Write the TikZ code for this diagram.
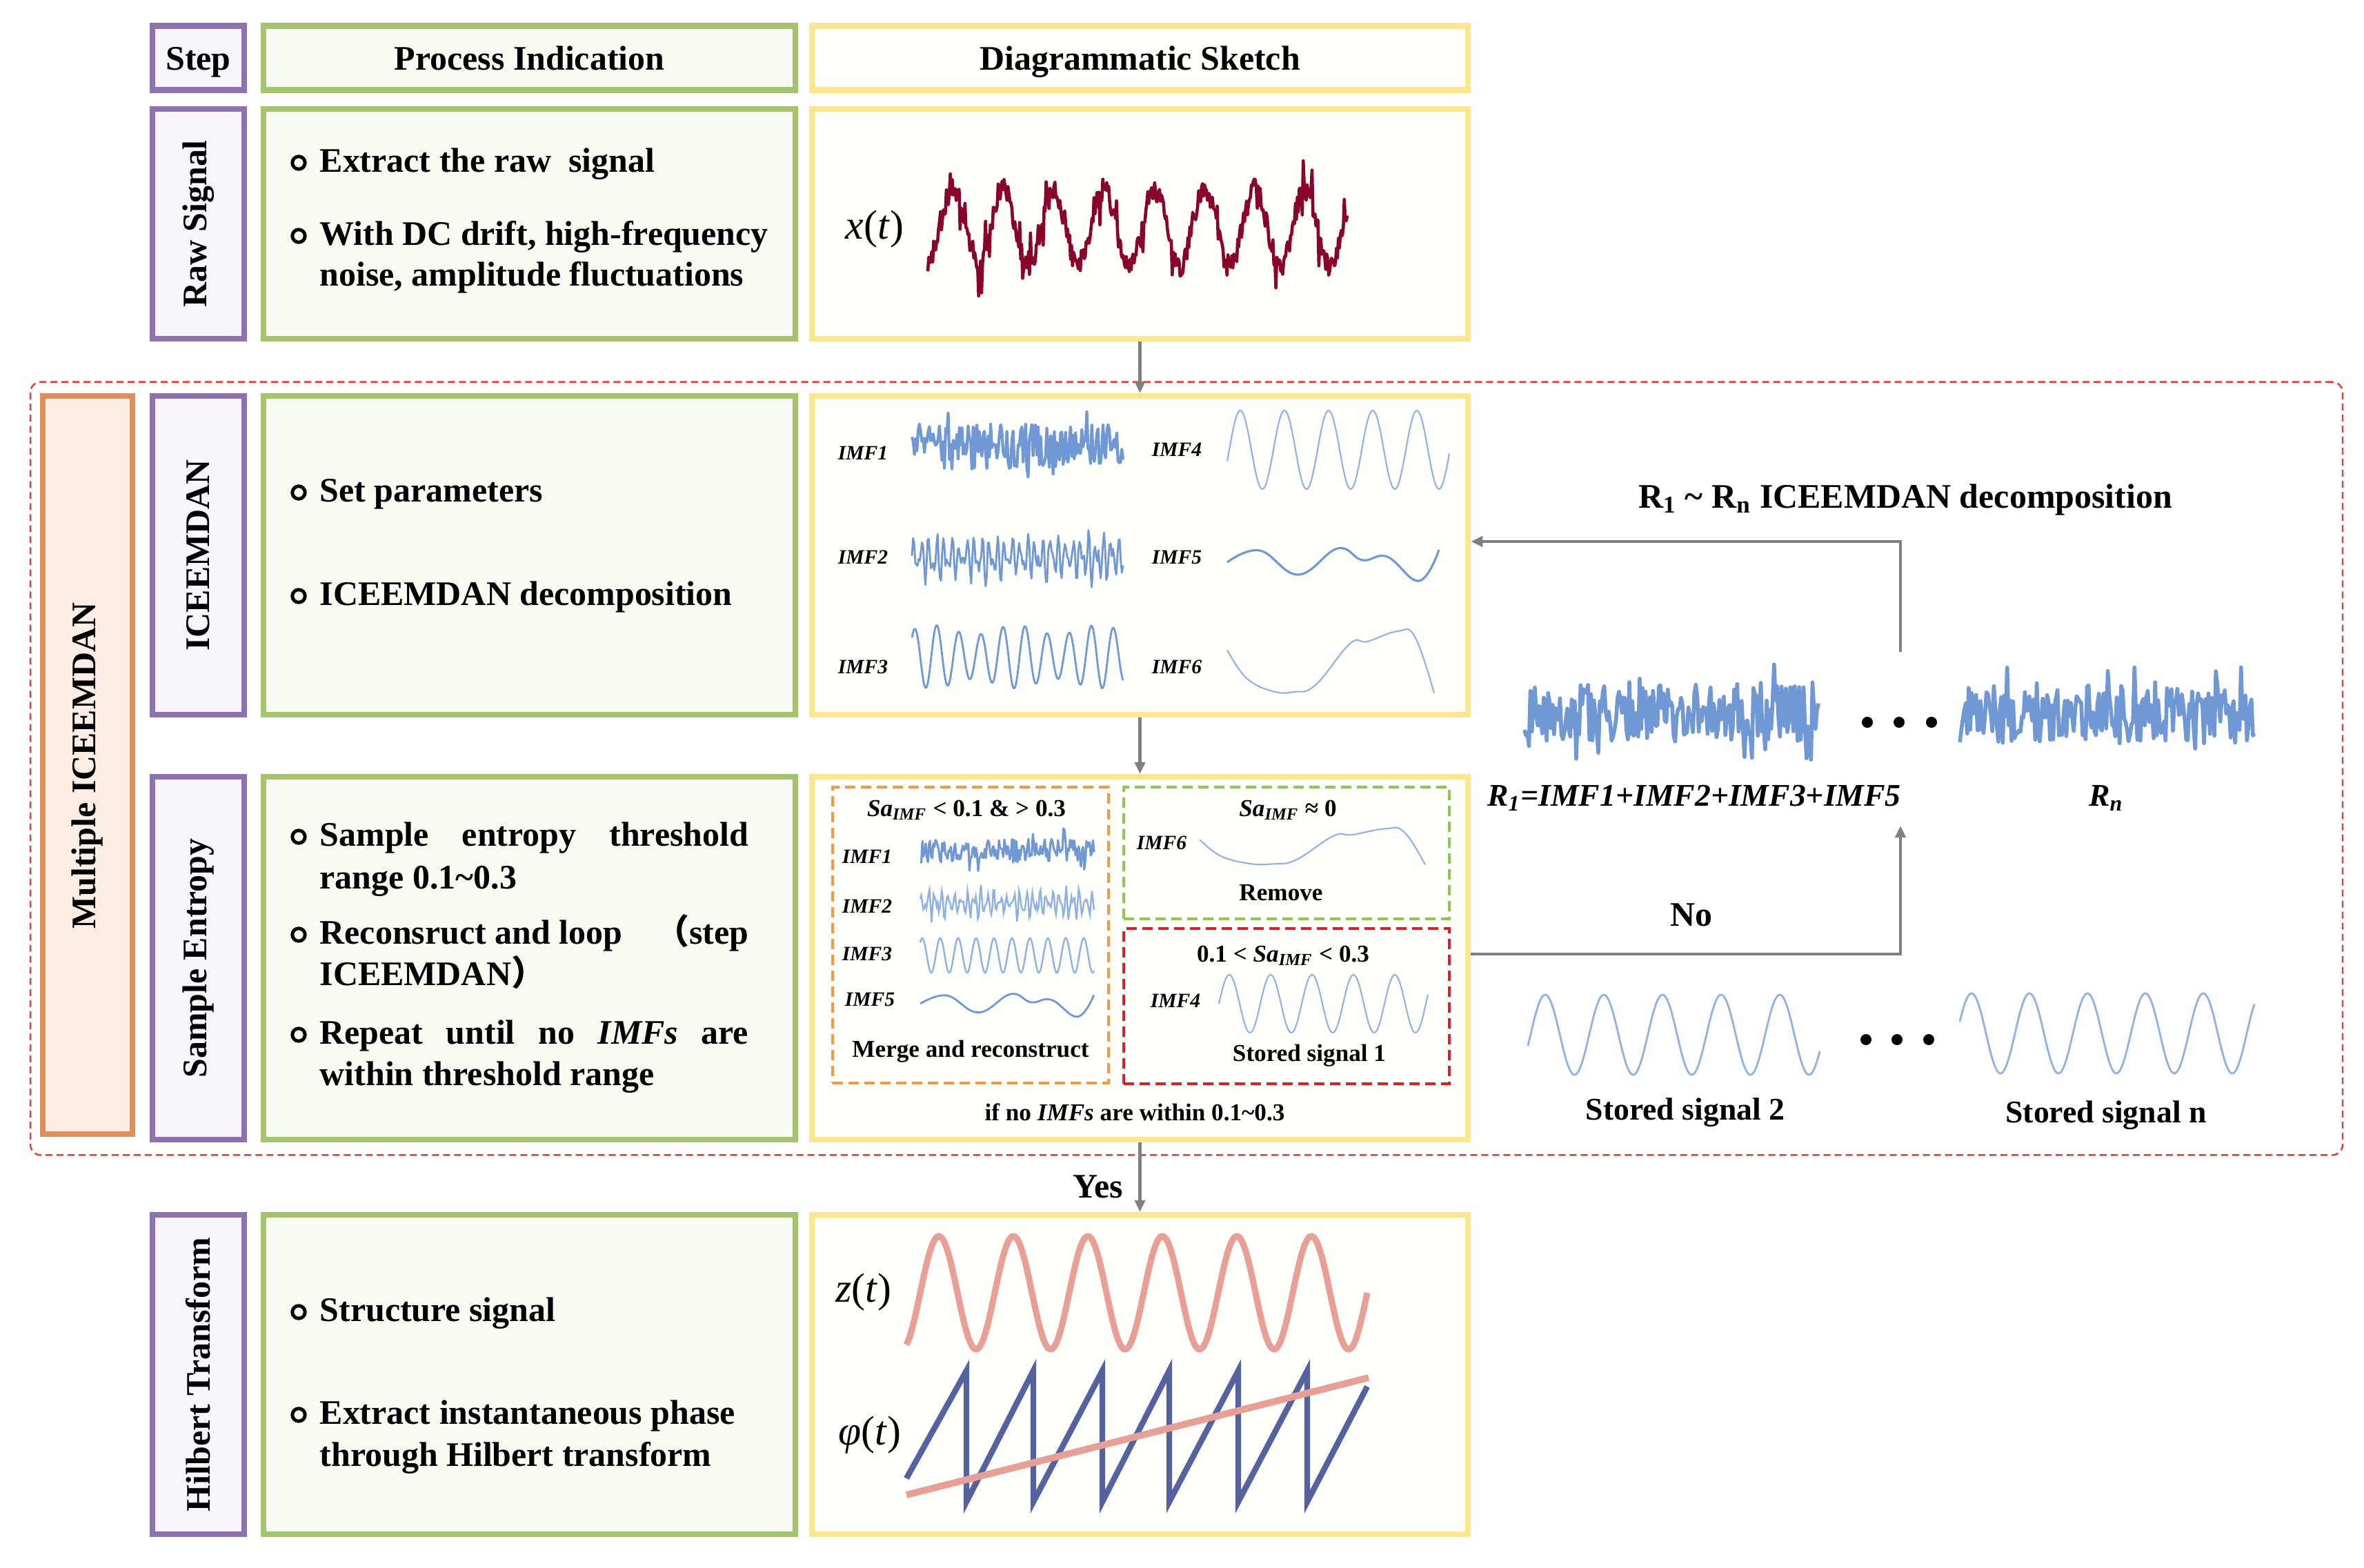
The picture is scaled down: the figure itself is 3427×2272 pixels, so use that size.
\documentclass[tikz,border=0pt]{standalone}
\usepackage{fontspec}
\setmainfont{Liberation Serif}
\newfontfamily\cjk{Noto Sans CJK SC}
\usetikzlibrary{arrows.meta}
\definecolor{stepc}{RGB}{142,113,176}
\definecolor{stepf}{RGB}{248,246,252}
\definecolor{procc}{RGB}{163,196,106}
\definecolor{procf}{RGB}{247,251,242}
\definecolor{skc}{RGB}{255,229,140}
\definecolor{skf}{RGB}{255,255,252}
\definecolor{orc}{RGB}{222,143,92}
\definecolor{orf}{RGB}{252,238,229}
\definecolor{redd}{RGB}{232,60,60}
\definecolor{argray}{RGB}{128,128,128}
\definecolor{maroon}{RGB}{138,4,42}
\definecolor{imfb}{RGB}{112,152,212}
\definecolor{imfl}{RGB}{145,178,225}
\definecolor{salmon}{RGB}{232,160,150}
\definecolor{phib}{RGB}{84,98,160}
\definecolor{dor}{RGB}{246,152,62}
\definecolor{dgr}{RGB}{138,204,72}
\definecolor{drd}{RGB}{222,30,36}
\newcommand{\fmain}{\fontsize{14.2}{17}\selectfont\bfseries}
\newcommand{\fimf}{\fontsize{8.4}{10}\selectfont\bfseries\itshape}
\newcommand{\fsmall}{\fontsize{10}{12}\selectfont\bfseries}
\newcommand{\fmid}{\fontsize{13}{15}\selectfont\bfseries}
\newcommand{\fsig}{\fontsize{17}{20}\selectfont}
\begin{document}
\begin{tikzpicture}[x=0.01cm,y=-0.01cm,font=\fmain,
  stepbox/.style={draw=stepc,fill=stepf,line width=2.3pt,inner sep=0pt,minimum width=1.33cm},
  procbox/.style={draw=procc,fill=procf,line width=2.3pt,inner sep=0pt,minimum width=7.71cm},
  skbox/.style={draw=skc,fill=skf,line width=2.3pt,inner sep=0pt,minimum width=9.51cm},
  ptext/.style={anchor=base west,inner sep=0pt},
  htext/.style={anchor=base,inner sep=0pt},
  bul/.style={line width=1.4pt},
  garrow/.style={draw=argray,line width=1.3pt,-{Triangle[length=0.17cm,width=0.15cm]}},
  imflab/.style={font=\fimf,inner sep=0pt},
  smalltxt/.style={font=\fsmall,inner sep=0pt},
  sigA/.style={imfb,line width=0.8pt,line join=round},
  sigB/.style={imfl,line width=0.6pt},
  sigC/.style={imfb,line width=0.9pt},
  ddash/.style={line width=1.1pt,dash pattern=on 0.15cm off 0.08cm,inner sep=0pt},
]
\useasboundingbox (0,0) rectangle (3427,2272);
\fill[white] (0,0) rectangle (3427,2272);

% outer dashed loop region
\node[draw=redd,line width=0.7pt,dash pattern=on 0.1cm off 0.06cm,rounded corners=0.15cm,
      minimum width=33.50cm,minimum height=11.20cm,inner sep=0pt] (loop) at (1720,1114) {};
\node[draw=orc,fill=orf,line width=2.3pt,minimum width=1.30cm,minimum height=10.70cm,inner sep=0pt] (multi) at (127,1109) {};
\node[rotate=90] (multit) at (126,1110) {Multiple ICEEMDAN};

% header
\node[stepbox,minimum height=0.93cm] (st0) at (287.5,84) {};
\node[procbox,minimum height=0.93cm] (pr0) at (767.5,84) {};
\node[skbox,minimum height=0.93cm] (sk0) at (1652.5,84) {};
\node[htext] (st0t) at (287.5,101) {Step};
\node[htext] (pr0t) at (767.5,101) {Process Indication};
\node[htext] (sk0t) at (1652.5,101) {Diagrammatic Sketch};

% rows
\node[stepbox,minimum height=3.33cm] (st1) at (287.5,324.5) {};
\node[procbox,minimum height=3.33cm] (pr1) at (767.5,324.5) {};
\node[skbox,minimum height=3.33cm] (sk1) at (1652.5,324.5) {};
\node[stepbox,minimum height=4.62cm] (st2) at (287.5,805) {};
\node[procbox,minimum height=4.62cm] (pr2) at (767.5,805) {};
\node[skbox,minimum height=4.62cm] (sk2) at (1652.5,805) {};
\node[stepbox,minimum height=5.26cm] (st3) at (287.5,1389) {};
\node[procbox,minimum height=5.26cm] (pr3) at (767.5,1389) {};
\node[skbox,minimum height=5.26cm] (sk3) at (1652.5,1389) {};
\node[stepbox,minimum height=4.63cm] (st4) at (287.5,1992.5) {};
\node[procbox,minimum height=4.63cm] (pr4) at (767.5,1992.5) {};
\node[skbox,minimum height=4.63cm] (sk4) at (1652.5,1992.5) {};

% step labels
\node[rotate=90] (st1t) at (st1) {Raw Signal};
\node[rotate=90] (st2t) at (st2) {ICEEMDAN};
\node[rotate=90] (st3t) at (st3) {Sample Entropy};
\node[rotate=90] (st4t) at (st4) {Hilbert Transform};

% process texts
\draw[bul] (433,236) circle (0.092cm);
\node[ptext] (p11) at (463,249) {Extract the raw\ \ signal};
\draw[bul] (433,342) circle (0.092cm);
\node[ptext] (p12) at (463,355) {With DC drift, high-frequency};
\node[ptext] (p13) at (463,414) {noise, amplitude fluctuations};

\draw[bul] (433,714) circle (0.092cm);
\node[ptext] (p21) at (463,727) {Set parameters};
\draw[bul] (433,864) circle (0.092cm);
\node[ptext] (p22) at (463,877) {ICEEMDAN decomposition};

\draw[bul] (433,1213) circle (0.092cm);
\node[ptext] (p31) at (463,1226) {\makebox[6.21cm][s]{Sample entropy threshold}};
\node[ptext] (p32) at (463,1288) {range 0.1\textasciitilde0.3};
\draw[bul] (433,1355) circle (0.092cm);
\node[ptext] (p33) at (463,1368) {\makebox[6.21cm][s]{Reconsruct and loop\hspace{0.5em plus 1fil}{\cjk （}step}};
\node[ptext] (p34) at (463,1428) {ICEEMDAN{\cjk ）}};
\draw[bul] (433,1500) circle (0.092cm);
\node[ptext] (p35) at (463,1513) {\makebox[6.21cm][s]{Repeat until no \textit{IMFs} are}};
\node[ptext] (p36) at (463,1573) {within threshold range};

\draw[bul] (433,1902) circle (0.092cm);
\node[ptext] (p41) at (463,1915) {Structure signal};
\draw[bul] (433,2051) circle (0.092cm);
\node[ptext] (p42) at (463,2064) {Extract instantaneous phase};
\node[ptext] (p43) at (463,2125) {through Hilbert transform};

% raw signal sketch
\node[font=\fsig] (xt) at (1268,332) {\textit{x}(\textit{t})};
\pgfmathsetseed{7}
\draw[maroon,line width=1.3pt,line join=round] plot[domain=0:608,samples=430]
  ({1345+\x},{330-56*cos((\x-36)/73*360)-16*rand-42*rand*(rand>0.82)});

% ICEEMDAN sketch
\node[imflab] (i1) at (1251,657) {IMF1};
\node[imflab] (i2) at (1251,808) {IMF2};
\node[imflab] (i3) at (1251,967) {IMF3};
\node[imflab] (i4) at (1706,652) {IMF4};
\node[imflab] (i5) at (1706,808) {IMF5};
\node[imflab] (i6) at (1706,967) {IMF6};
\pgfmathsetseed{11}
\draw[sigA,line width=1.2pt] plot[domain=0:306,samples=170] ({1322+\x},{647-33*rand*(1+0.75*(rand>0.72))});
\draw[sigA] plot[domain=0:306,samples=190]
  ({1322+\x},{808-(22*sin(\x/11*360)+14*sin(\x/7.3*360+40)+9*rand)*(0.7+0.45*abs(sin(\x/160*360+20)))});
\draw[sigA] plot[domain=0:306,samples=300]
  ({1322+\x},{952-46*(0.85+0.15*sin(\x/120*360))*cos((\x-4)/32*360)});
\draw[sigB] plot[domain=0:322,samples=220] ({1779+\x},{652-57*cos((\x-19)/64*360)});
\draw[sigC,shift={(1779,815)}] plot[smooth,tension=0.7] coordinates
  {(0,0)(47,-17)(103,18)(160,-20)(196,-3)(232,-8)(278,27)(307,-18)};
\draw[sigB,shift={(1779,942)}] plot[smooth,tension=0.7] coordinates
  {(0,0)(28,41)(66,60)(97,61)(128,51)(178,-9)(203,-12)(247,-27)(272,-19)(300,63)};

% sample entropy sketch
\node[draw=dor,ddash,minimum width=4.00cm,minimum height=4.29cm] (gmerge) at (1407,1355.5) {};
\node[draw=dgr,ddash,minimum width=4.72cm,minimum height=1.91cm] (gremove) at (1865,1236.5) {};
\node[draw=drd,ddash,minimum width=4.72cm,minimum height=2.25cm] (gstore) at (1865,1458.5) {};
\node[smalltxt] (t1) at (1401,1174) {\textit{Sa}\textsubscript{\textit{IMF}} < 0.1 \& > 0.3};
\node[imflab] (j1) at (1257,1242) {IMF1};
\node[imflab] (j2) at (1257,1314) {IMF2};
\node[imflab] (j3) at (1257,1383) {IMF3};
\node[imflab] (j5) at (1261,1449) {IMF5};
\node[smalltxt] (merge) at (1407,1524) {Merge and reconstruct};
\node[smalltxt] (t2) at (1867,1174) {\textit{Sa}\textsubscript{\textit{IMF}} ≈ 0};
\node[imflab] (j6) at (1684,1222) {IMF6};
\node[smalltxt] (remove) at (1857,1294) {Remove};
\node[smalltxt] (t3) at (1860,1385) {0.1 < \textit{Sa}\textsubscript{\textit{IMF}} < 0.3};
\node[imflab] (j4) at (1704,1451) {IMF4};
\node[smalltxt] (st1lab) at (1898,1530) {Stored signal 1};
\node[smalltxt] (ifno) at (1645,1612) {if no \textit{IMFs} are within 0.1\textasciitilde0.3};
\pgfmathsetseed{23}
\draw[sigA,line width=0.9pt] plot[domain=0:252,samples=160] ({1334+\x},{1233-17*rand*(1+0.9*(rand>0.8))});
\draw[sigB,line width=0.7pt] plot[domain=0:252,samples=170]
  ({1334+\x},{1310-(12*sin(\x/9.5*360)+8*sin(\x/6.2*360+40)+5*rand)*(0.7+0.45*abs(sin(\x/130*360+20)))});
\draw[sigB,line width=0.7pt] plot[domain=0:252,samples=250] ({1334+\x},{1385-25*cos((\x-3)/26*360)});
\draw[sigC,line width=0.8pt,shift={(1334,1455)},xscale=0.82,yscale=0.7] plot[smooth,tension=0.7] coordinates
  {(0,0)(47,-17)(103,18)(160,-20)(196,-3)(232,-8)(278,27)(307,-18)};
\draw[sigB,shift={(1739,1217)},xscale=1.09,yscale=0.58] plot[smooth,tension=0.7] coordinates
  {(0,0)(28,41)(66,60)(97,61)(128,51)(178,-9)(203,-12)(247,-27)(272,-19)(300,63)};
\draw[sigB] plot[domain=0:303,samples=200] ({1767+\x},{1455-42*cos((\x-15)/60*360)});

% right side: residuals and stored signals
\pgfmathsetseed{31}
\draw[sigA,line width=1.6pt] plot[domain=0:426,samples=200] ({2210+\x},{1033-42*rand*(1+0.7*(rand>0.78))});
\draw[sigA,line width=1.6pt] plot[domain=0:427,samples=200] ({2841+\x},{1036-42*rand*(1+0.7*(rand>0.78))});
\fill (2707,1047) circle (0.08cm);
\fill (2753,1047) circle (0.08cm);
\fill (2800,1047) circle (0.08cm);
\node[font=\fmid\itshape] (r1lab) at (2456,1157) {R\textsubscript{1}=IMF1+IMF2+IMF3+IMF5};
\node[font=\fmid\itshape] (rnlab) at (3053,1157) {R\textsubscript{n}};
\draw[sigB,line width=0.8pt] plot[domain=0:423,samples=250] ({2215+\x},{1500-58*cos((\x-25)/85*360)});
\draw[sigB,line width=0.8pt] plot[domain=0:427,samples=250] ({2841+\x},{1498-58*cos((\x-17)/84*360)});
\fill (2705,1507) circle (0.08cm);
\fill (2750,1507) circle (0.08cm);
\fill (2796,1507) circle (0.08cm);
\node[font=\fmid] (s2lab) at (2443,1613) {Stored signal 2};
\node[font=\fmid] (snlab) at (3053,1617) {Stored signal n};
\node (declab) at (2762,724) {R\textsubscript{1} \textasciitilde{} R\textsubscript{n} ICEEMDAN decomposition};
\node (nolab) at (2452,1326) {No};
\node (yeslab) at (1592,1720) {Yes};

% Hilbert sketch
\node[font=\fsig] (zt) at (1252,1873) {\textit{z}(\textit{t})};
\node[font=\fsig] (pt) at (1261,2080) {\textit{φ}(\textit{t})};
\draw[salmon,line width=2.6pt] plot[domain=0:668,samples=300] ({1314+\x},{1874-82*cos((\x-47)/108*360)});
\draw[phib,line width=2.4pt] (1314,2143) -- (1401,1987) -- (1401,2177) -- (1498,1987) -- (1498,2177)
  -- (1598,1987) -- (1598,2177) -- (1695,1987) -- (1695,2177) -- (1795,1987) -- (1795,2177)
  -- (1895,1987) -- (1895,2177) -- (1982,2010);
\draw[salmon,line width=2.8pt] (1314,2167) -- (1984,1997);

% connectors
\coordinate (loopTop) at (2755,945);
\coordinate (loopCorner) at (2755,785);
\coordinate (loopBot) at (2755,1197);
\coordinate (noCorner) at (2755,1383);
\draw[garrow] (sk1.south) -- (sk2.north);
\draw[garrow] (sk2.south) -- (sk3.north);
\draw[garrow] (sk3.south) -- (sk4.north);
\draw[garrow] (noCorner -| sk3.east) -- (noCorner) -- (loopBot);
\draw[garrow] (loopTop) -- (loopCorner) -- (loopCorner -| sk2.east);
\end{tikzpicture}
\end{document}
